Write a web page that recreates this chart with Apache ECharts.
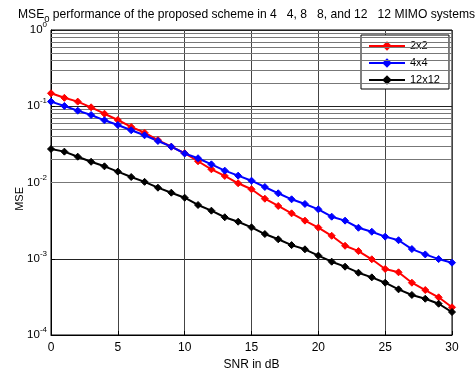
<!DOCTYPE html>
<html>
<head>
<meta charset="utf-8">
<script src="https://cdn.jsdelivr.net/npm/echarts@6/dist/echarts.min.js"></script>
<style>html,body{margin:0;padding:0;background:#fff;}#c{width:475px;height:369px;}</style>
</head>
<body>
<div id="c"></div>
<script>
var snr = [0,1,2,3,4,5,6,7,8,9,10,11,12,13,14,15,16,17,18,19,20,21,22,23,24,25,26,27,28,29,30];
var mse2x2 = [0.148,0.129,0.115,0.0968,0.0798,0.066,0.0535,0.045,0.036,0.0295,0.0242,0.019,0.0149,0.0122,0.00977,0.00815,0.00613,0.00492,0.00394,0.00316,0.00256,0.002,0.00148,0.00126,0.000984,0.000734,0.000664,0.000485,0.000389,0.000312,0.000231];
var mse4x4 = [0.115,0.1008,0.0875,0.0768,0.0654,0.0568,0.0484,0.0416,0.035,0.0295,0.024,0.0208,0.0173,0.0143,0.0123,0.01056,0.00873,0.00722,0.00602,0.00523,0.00445,0.00356,0.00316,0.00255,0.00226,0.00195,0.00175,0.00134,0.00114,0.00099,0.000888];
var mse12x12 = [0.0275,0.0254,0.0218,0.0187,0.0163,0.0139,0.0118,0.0102,0.00855,0.00735,0.00632,0.00507,0.00427,0.0035,0.00306,0.00258,0.00211,0.0018,0.00151,0.00133,0.0011,0.000915,0.000787,0.000656,0.00057,0.000485,0.000397,0.000335,0.000299,0.000257,0.0002];
var seriesNames = ['2x2','4x4','12x12'];
var seriesColors = ['#ff0000','#0000ff','#000000'];
var xTicks = [0,5,10,15,20,25,30];
var yExponents = [0,-1,-2,-3,-4];

var FONT = 'Liberation Sans, Arial, sans-serif';
function pairs(ys){ return snr.map(function(x,i){ return [x, ys[i]]; }); }
// minor log grid lines at 2..9 x 10^k
var minorLines = [];
for (var k = -4; k < 0; k++) {
  for (var m = 2; m <= 9; m++) minorLines.push({yAxis: m * Math.pow(10, k)});
}

var chart = echarts.init(document.getElementById('c'), null, {renderer: 'canvas'});
function mk(name, data, color) {
  return {
    name: name, type: 'line', data: pairs(data),
    symbol: 'diamond', symbolSize: 7, showAllSymbol: true,
    color: color,
    lineStyle: {color: color, width: 2},
    itemStyle: {color: color, borderColor: color},
    z: 5, animation: false
  };
}
chart.setOption({
  animation: false,
  backgroundColor: '#fff',
  color: seriesColors,
  title: {
    left: 18, top: 6, padding: 0,
    text: '{a|MSE}{sub|0}{a| performance of the proposed scheme in 4   4, 8   8, and 12   12 MIMO systems}',
    textStyle: {
      fontWeight: 'normal',
      rich: {
        a: {fontFamily: FONT, fontSize: 12.1, fontWeight: 'normal', color: '#000', lineHeight: 18, verticalAlign: 'middle'},
        sub: {fontFamily: FONT, fontSize: 9.5, fontWeight: 'normal', color: '#000', lineHeight: 18, verticalAlign: 'bottom'}
      }
    }
  },
  grid: {left: 51, right: 23, top: 30, bottom: 34, show: true, borderColor: '#000', borderWidth: 1,
    backgroundColor: 'transparent', containLabel: false, outerBoundsMode: 'none'},
  legend: {
    orient: 'vertical', left: 361, top: 35,
    data: seriesNames,
    itemWidth: 36, itemHeight: 12, itemGap: 5,
    padding: [5, 9, 3, 7],
    borderColor: '#000', borderWidth: 1, backgroundColor: '#fff',
    lineStyle: {width: 2},
    textStyle: {fontFamily: FONT, fontSize: 11, color: '#000', lineHeight: 12}
  },
  xAxis: {
    type: 'value', min: 0, max: 30, interval: 5,
    name: 'SNR in dB', nameLocation: 'middle', nameGap: 24,
    nameTextStyle: {fontFamily: FONT, fontSize: 12, color: '#000'},
    axisLine: {show: true, lineStyle: {color: '#000', width: 1}},
    axisTick: {show: true, inside: true, length: 4, lineStyle: {color: '#000'}},
    axisLabel: {fontFamily: FONT, fontSize: 12, color: '#000', margin: 7,
      formatter: function(v){ return xTicks.indexOf(v) >= 0 ? String(v) : ''; }},
    splitLine: {show: true, lineStyle: {color: '#444', width: 1}}
  },
  yAxis: {
    type: 'log', logBase: 10, min: 1e-4, max: 1,
    axisLine: {show: true, lineStyle: {color: '#000', width: 1}},
    axisTick: {show: true, inside: true, length: 4, lineStyle: {color: '#000'}},
    axisLabel: {
      margin: 4,
      formatter: function(v){
        var e = Math.round(Math.log10(v));
        if (yExponents.indexOf(e) < 0) return '';
        return '{b|10}{s|' + e + '}';
      },
      rich: {
        b: {fontFamily: FONT, fontSize: 11.5, color: '#000', lineHeight: 18, verticalAlign: 'middle'},
        s: {fontFamily: FONT, fontSize: 8, color: '#000', lineHeight: 18, verticalAlign: 'top'}
      }
    },
    splitLine: {show: true, lineStyle: {color: '#222', width: 1}}
  },
  graphic: [{
    type: 'text', left: 14, top: 187, rotation: Math.PI / 2,
    style: {text: 'MSE', fontFamily: FONT, fontSize: 11, fill: '#000'}
  }],
  series: [
    mk(seriesNames[0], mse2x2, seriesColors[0]),
    mk(seriesNames[1], mse4x4, seriesColors[1]),
    mk(seriesNames[2], mse12x12, seriesColors[2]),
    {
      name: 'grid-minor', type: 'line', data: [], silent: true, z: 1,
      markLine: {
        silent: true, symbol: ['none', 'none'], animation: false,
        label: {show: false},
        lineStyle: {color: '#777', width: 1, type: 'solid'},
        data: minorLines
      }
    }
  ]
});
</script>
</body>
</html>
